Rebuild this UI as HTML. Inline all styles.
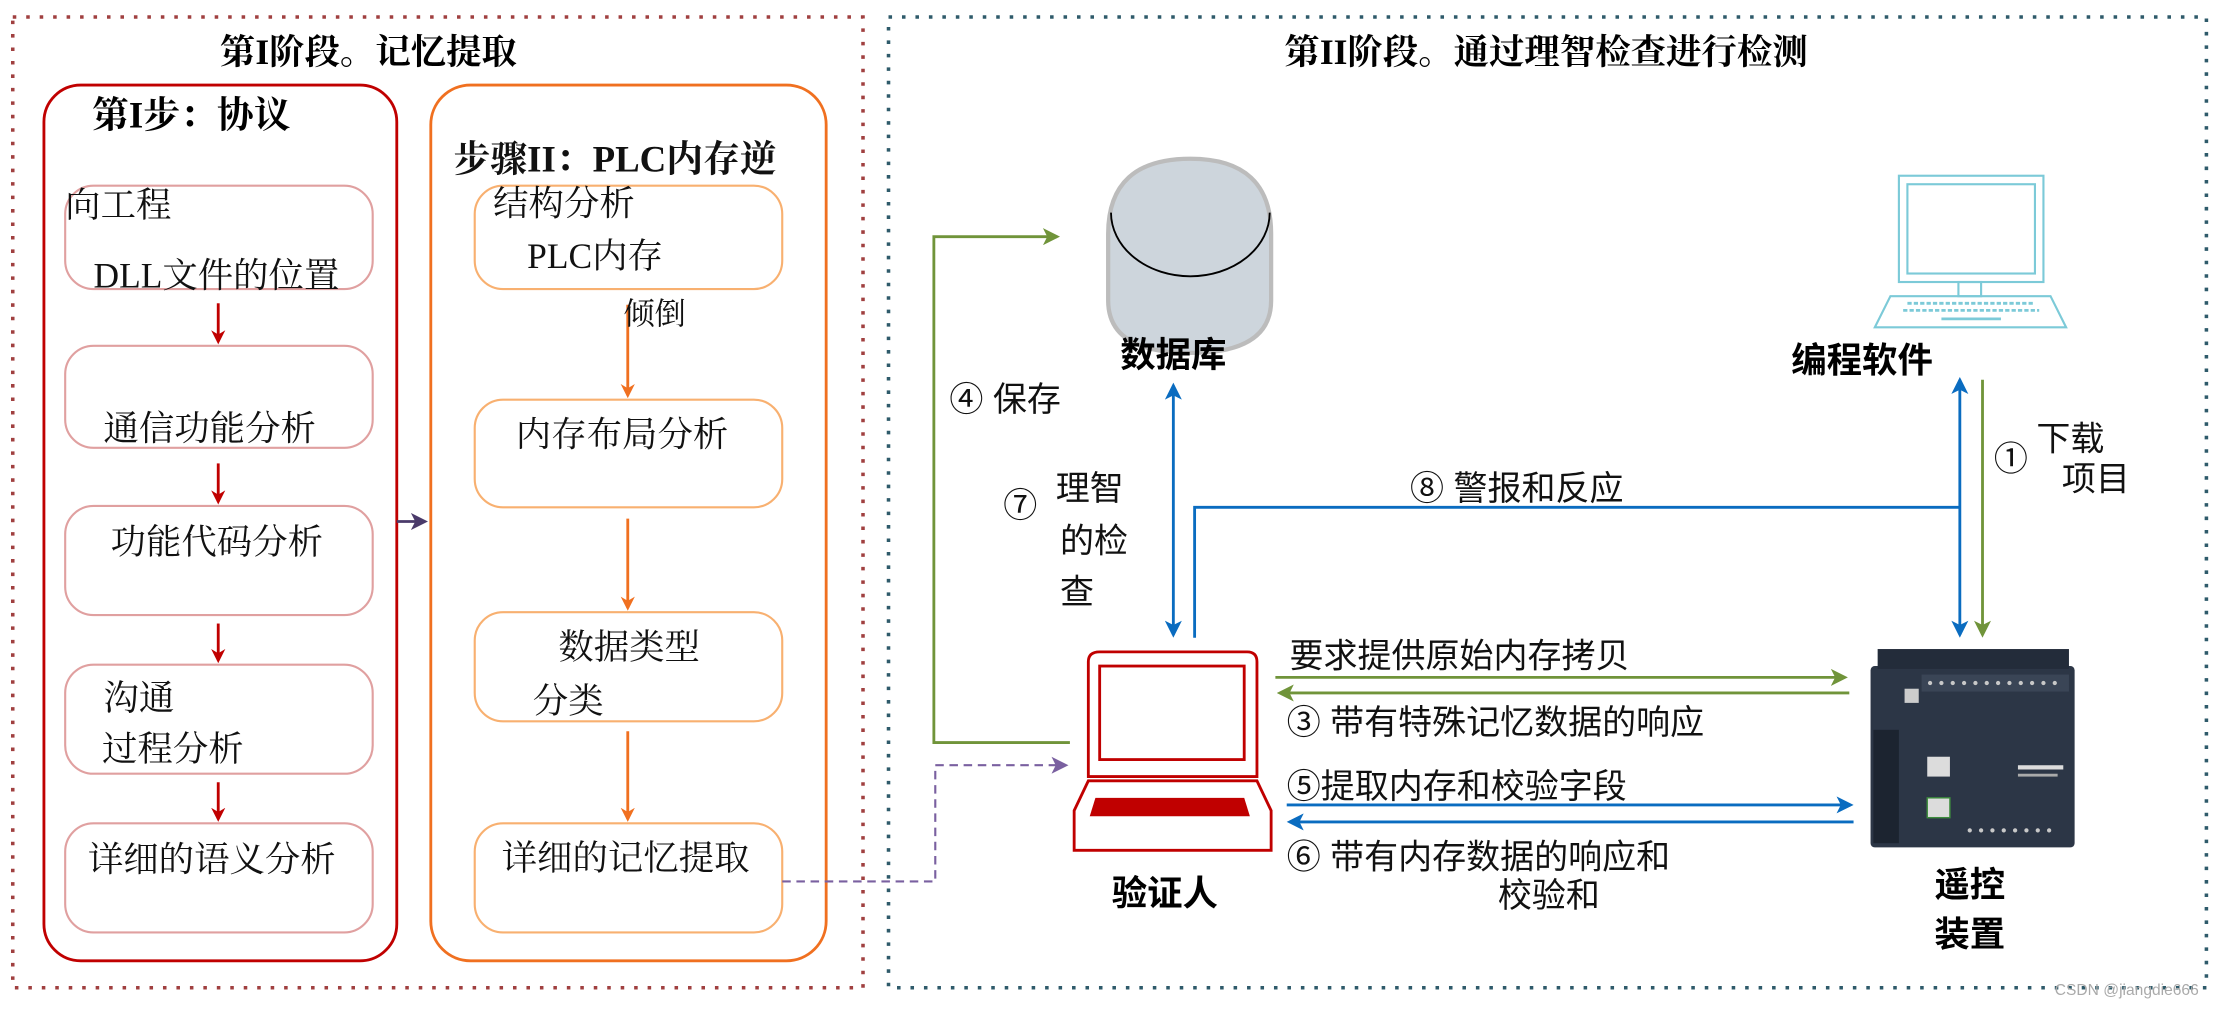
<!DOCTYPE html>
<html><head><meta charset="utf-8">
<style>
html,body{margin:0;padding:0;background:#fff;}
svg{display:block;}
.s{font-family:"Liberation Serif","Noto Serif CJK SC",serif;}
.a{font-family:"Liberation Sans","Noto Sans CJK SC",sans-serif;}
</style></head><body>
<svg width="2222" height="1009" viewBox="0 0 1568 712" xmlns="http://www.w3.org/2000/svg">
<defs>
<marker id="mr" markerWidth="10" markerHeight="10" refX="8" refY="5" orient="auto" markerUnits="userSpaceOnUse"><path d="M0,0 L10,5 L0,10 L3,5 Z" fill="#c00000"/></marker>
<marker id="mo" markerWidth="10" markerHeight="10" refX="8" refY="5" orient="auto" markerUnits="userSpaceOnUse"><path d="M0,0 L10,5 L0,10 L3,5 Z" fill="#f07020"/></marker>
<marker id="mg" markerWidth="12" markerHeight="12" refX="10" refY="6" orient="auto" markerUnits="userSpaceOnUse"><path d="M0,0 L12,6 L0,12 L3,6 Z" fill="#70943a"/></marker>
<marker id="mb" markerWidth="12" markerHeight="12" refX="10" refY="6" orient="auto-start-reverse" markerUnits="userSpaceOnUse"><path d="M0,0 L12,6 L0,12 L3,6 Z" fill="#0a6cc0"/></marker>
<marker id="mp" markerWidth="12" markerHeight="12" refX="10" refY="6" orient="auto" markerUnits="userSpaceOnUse"><path d="M0,0 L12,6 L0,12 L3,6 Z" fill="#7a60a0"/></marker>
<marker id="md" markerWidth="12" markerHeight="12" refX="10" refY="6" orient="auto" markerUnits="userSpaceOnUse"><path d="M0,0 L12,6 L0,12 L3,6 Z" fill="#4a3a6a"/></marker>
</defs>
<rect x="9" y="12" width="600" height="685" fill="none" stroke="#a04040" stroke-width="2.5" stroke-dasharray="2.5 7"/>
<rect x="627" y="12" width="930" height="685" fill="none" stroke="#2e5a6a" stroke-width="2.5" stroke-dasharray="2.5 7"/>
<text class="s" x="260" y="45" font-size="25" font-weight="bold" text-anchor="middle">第I阶段。记忆提取</text>
<text class="s" x="1091" y="45" font-size="25" font-weight="bold" text-anchor="middle">第II阶段。通过理智检查进行检测</text>

<rect x="31" y="60" width="249" height="618" rx="26" fill="none" stroke="#c00000" stroke-width="2"/>
<text class="s" x="65" y="90" font-size="26" font-weight="bold">第I步：协议</text>
<g fill="none" stroke="#e0a0a0" stroke-width="1.5">
<rect x="46" y="131" width="217" height="73" rx="20"/>
<rect x="46" y="244" width="217" height="72" rx="20"/>
<rect x="46" y="357" width="217" height="77" rx="20"/>
<rect x="46" y="469" width="217" height="77" rx="20"/>
<rect x="46" y="581" width="217" height="77" rx="20"/>
</g>
<g stroke="#c00000" stroke-width="2">
<line x1="154" y1="214" x2="154" y2="241" marker-end="url(#mr)"/>
<line x1="154" y1="327" x2="154" y2="354" marker-end="url(#mr)"/>
<line x1="154" y1="440" x2="154" y2="466" marker-end="url(#mr)"/>
<line x1="154" y1="552" x2="154" y2="578" marker-end="url(#mr)"/>
</g>
<g class="s" font-size="25" fill="#111">
<text x="46" y="153">向工程</text>
<text x="66" y="203">DLL文件的位置</text>
<text x="73" y="311">通信功能分析</text>
<text x="78" y="391">功能代码分析</text>
<text x="73" y="501">沟通</text>
<text x="72" y="537">过程分析</text>
<text x="62" y="615">详细的语义分析</text>
</g>

<rect x="304" y="60" width="279" height="618" rx="28" fill="none" stroke="#f07020" stroke-width="2"/>
<g fill="none" stroke="#f8b070" stroke-width="1.5">
<rect x="335" y="131" width="217" height="73" rx="20"/>
<rect x="335" y="282" width="217" height="76" rx="20"/>
<rect x="335" y="432" width="217" height="77" rx="20"/>
<rect x="335" y="581" width="217" height="77" rx="20"/>
</g>
<g stroke="#f07020" stroke-width="2">
<line x1="443" y1="215" x2="443" y2="279" marker-end="url(#mo)"/>
<line x1="443" y1="366" x2="443" y2="429" marker-end="url(#mo)"/>
<line x1="443" y1="516" x2="443" y2="578" marker-end="url(#mo)"/>
</g>
<g class="s" font-size="25" fill="#111">
<text x="320" y="121" font-weight="bold" font-size="26">步骤II：PLC内存逆</text>
<text x="348" y="152">结构分析</text>
<text x="372" y="189">PLC内存</text>
<text x="440" y="229" font-size="22">倾倒</text>
<text x="364" y="315">内存布局分析</text>
<text x="394" y="465">数据类型</text>
<text x="376" y="503">分类</text>
<text x="354" y="614">详细的记忆提取</text>
</g>
<line x1="280" y1="368" x2="300" y2="368" stroke="#4a3a6a" stroke-width="2" marker-end="url(#md)"/>

<polyline points="552,622 660,622 660,540 752,540" fill="none" stroke="#7a60a0" stroke-width="1.5" stroke-dasharray="6 4" marker-end="url(#mp)"/>
<polyline points="755,524 659,524 659,167 746,167" fill="none" stroke="#70943a" stroke-width="2" marker-end="url(#mg)"/>

<path d="M782,165 Q782,112 840,112 Q897,112 897,165 L897,212 Q897,249 840,249 Q782,249 782,212 Z" fill="#cdd5dc" stroke="#bcbcbc" stroke-width="3"/>
<path d="M784,150 A56,45 0 0 0 896,150" fill="none" stroke="#000" stroke-width="1.3"/>
<text class="a" x="828" y="259" font-size="25" font-weight="bold" text-anchor="middle">数据库</text>

<g fill="none" stroke="#7ccad8" stroke-width="1.5">
<rect x="1340" y="124" width="102" height="75"/>
<rect x="1346" y="130" width="90" height="63"/>
<rect x="1382" y="199" width="16" height="10"/>
<path d="M1334,209 L1447,209 L1458,231 L1323,231 Z"/>
</g>
<g stroke="#7ccad8" stroke-width="2" stroke-dasharray="3 1.5">
<line x1="1346" y1="214" x2="1436" y2="214"/>
<line x1="1343" y1="219" x2="1439" y2="219"/>
<line x1="1370" y1="225" x2="1412" y2="225" stroke-dasharray="none"/>
</g>
<text class="a" x="1314" y="263" font-size="25" font-weight="bold" text-anchor="middle">编程软件</text>

<g stroke="#0a6cc0" stroke-width="2" fill="none">
<line x1="828" y1="272" x2="828" y2="448" marker-start="url(#mb)" marker-end="url(#mb)"/>
<polyline points="843,450 843,358 1383,358"/>
<line x1="1383" y1="268" x2="1383" y2="448" marker-start="url(#mb)" marker-end="url(#mb)"/>
<line x1="908" y1="568" x2="1306" y2="568" marker-end="url(#mb)"/>
<line x1="1308" y1="580" x2="910" y2="580" marker-end="url(#mb)"/>
</g>
<g stroke="#70943a" stroke-width="2" fill="none">
<line x1="1399" y1="268" x2="1399" y2="448" marker-end="url(#mg)"/>
<line x1="900" y1="478" x2="1302" y2="478" marker-end="url(#mg)"/>
<line x1="1305" y1="489" x2="903" y2="489" marker-end="url(#mg)"/>
</g>

<g class="a" font-size="24" fill="#111">
<text x="670" y="290">④ 保存</text>
<text x="708" y="365">⑦</text>
<text x="745" y="353">理智</text>
<text x="748" y="390">的检</text>
<text x="748" y="426">查</text>
<text x="995" y="353">⑧ 警报和反应</text>
<text x="1407" y="332">①</text>
<text x="1437" y="318">下载</text>
<text x="1455" y="346">项目</text>
<text x="910" y="471">要求提供原始内存拷贝</text>
<text x="908" y="518">③ 带有特殊记忆数据的响应</text>
<text x="908" y="563">⑤提取内存和校验字段</text>
<text x="908" y="613">⑥ 带有内存数据的响应和</text>
<text x="1057" y="640">校验和</text>
</g>

<g fill="none" stroke="#c00000" stroke-width="2">
<path d="M776,460 L880,460 Q887,460 887,467 L887,548 L768,548 L768,467 Q768,460 776,460 Z"/>
<rect x="776" y="470" width="102" height="66"/>
<path d="M768,551 L887,551 L897,572 L897,600 L758,600 L758,572 Z"/>
</g>
<path d="M773,563 L878,563 L882,576 L769,576 Z" fill="#c00000"/>
<text class="a" x="822" y="639" font-size="25" font-weight="bold" text-anchor="middle">验证人</text>

<g>
<rect x="1320" y="470" width="144" height="128" rx="3" fill="#2c3646"/>
<rect x="1325" y="458" width="135" height="14" fill="#232c3a"/>
<rect x="1356" y="476" width="104" height="12" fill="#3a4556"/>
<g fill="#c8c8c8"><circle cx="1362" cy="482" r="1.5"/><circle cx="1370" cy="482" r="1.5"/><circle cx="1378" cy="482" r="1.5"/><circle cx="1386" cy="482" r="1.5"/><circle cx="1394" cy="482" r="1.5"/><circle cx="1402" cy="482" r="1.5"/><circle cx="1410" cy="482" r="1.5"/><circle cx="1418" cy="482" r="1.5"/><circle cx="1426" cy="482" r="1.5"/><circle cx="1434" cy="482" r="1.5"/><circle cx="1442" cy="482" r="1.5"/><circle cx="1450" cy="482" r="1.5"/>
<circle cx="1390" cy="586" r="1.5"/><circle cx="1398" cy="586" r="1.5"/><circle cx="1406" cy="586" r="1.5"/><circle cx="1414" cy="586" r="1.5"/><circle cx="1422" cy="586" r="1.5"/><circle cx="1430" cy="586" r="1.5"/><circle cx="1438" cy="586" r="1.5"/><circle cx="1446" cy="586" r="1.5"/></g>
<rect x="1322" y="515" width="18" height="80" fill="#1c2430"/>
<rect x="1360" y="534" width="16" height="14" fill="#dcdcdc"/>
<rect x="1360" y="563" width="16" height="14" fill="#dcdcdc" stroke="#3c8c3c"/>
<rect x="1424" y="540" width="32" height="3" fill="#dcdcdc"/>
<rect x="1424" y="546" width="28" height="2" fill="#aaa"/>
<rect x="1344" y="486" width="10" height="10" fill="#ccc"/>
</g>
<text class="a" x="1390" y="633" font-size="25" font-weight="bold" text-anchor="middle">遥控</text>
<text class="a" x="1390" y="668" font-size="25" font-weight="bold" text-anchor="middle">装置</text>
<text class="a" x="1450" y="702" font-size="11" fill="#aaa">CSDN @jiangdie666</text>
</svg>
</body></html>
